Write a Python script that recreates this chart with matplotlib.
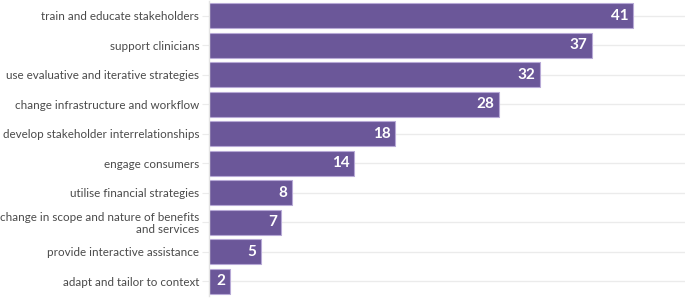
import matplotlib
matplotlib.use("Agg")
from matplotlib import pyplot as plt
import numpy as np

plt.rcParams['font.family'] = ['Lato', 'DejaVu Sans']

labels = [
    "train and educate stakeholders",
    "support clinicians",
    "use evaluative and iterative strategies",
    "change infrastructure and workflow",
    "develop stakeholder interrelationships",
    "engage consumers",
    "utilise financial strategies",
    "change in scope and nature of benefits\nand services",
    "provide interactive assistance",
    "adapt and tailor to context",
]
counts = [41, 37, 32, 28, 18, 14, 8, 7, 5, 2]

bar_color = "#6b5799"
edge_color = "#b7a9d6"
grid_color = "#ebebeb"
text_color = "#4a4a4a"

fig = plt.figure(figsize=(6.85, 2.98), dpi=100)
ax = fig.add_axes([209 / 685, 2 / 298, 1 - 209 / 685, 1 - 3 / 298])

y = np.arange(len(labels))
for yy in y:
    ax.axhline(yy, color=grid_color, lw=1, zorder=0)
ax.barh(y, counts, height=0.84, color=bar_color, edgecolor=edge_color,
        linewidth=0.8, zorder=2)

for yy, c in zip(y, counts):
    ax.text(c - 0.45, yy, str(c), ha="right", va="center", color="white",
            fontsize=11, fontweight="bold", zorder=3)

ax.set_xlim(0, 46)
ax.set_ylim(len(labels) - 0.5, -0.5)
ax.set_yticks(y)
ax.set_yticklabels(labels, fontsize=8.4, color=text_color, linespacing=1.05)
ax.set_xticks([])
ax.tick_params(axis="y", length=5, color=grid_color, pad=2)
for side in ["top", "right", "bottom"]:
    ax.spines[side].set_visible(False)
ax.spines["left"].set_color("#e3e3e3")
ax.spines["left"].set_linewidth(1)

fig.savefig("out.png", dpi=100)
